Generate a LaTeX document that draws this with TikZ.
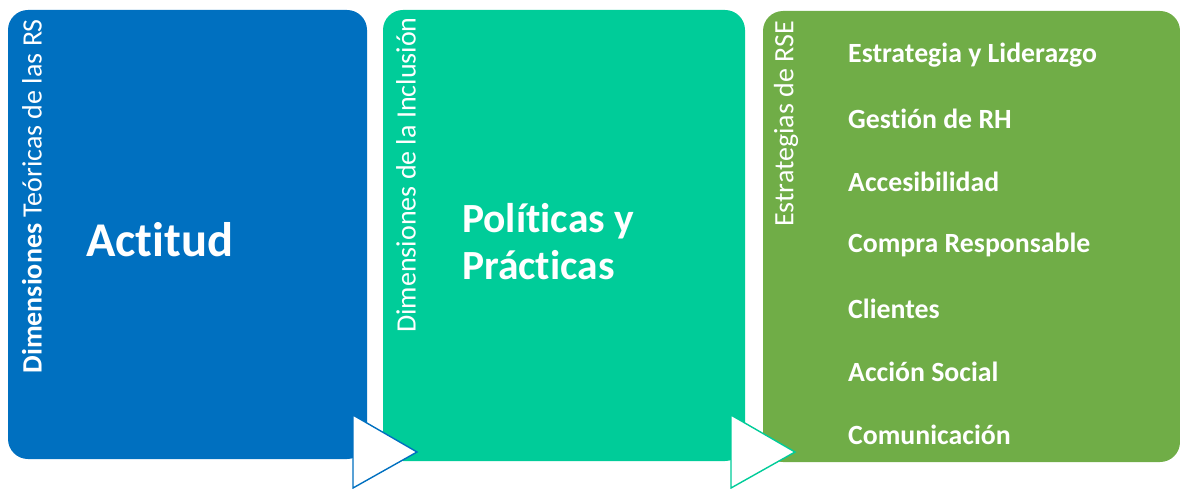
\documentclass[tikz,border=0pt]{standalone}
\usepackage{fontspec}
\setmainfont{Carlito}[Ligatures=NoCommon]
\definecolor{cblue}{HTML}{0070C0}
\definecolor{cteal}{HTML}{00CC99}
\definecolor{cgreen}{HTML}{70AD47}
\begin{document}
\begin{tikzpicture}[x=1pt,y=-1pt,
  panel/.style={rounded corners=20pt},
  vlabel/.style={rotate=90,anchor=east,text=white,font=\fontsize{28}{32}\selectfont,inner sep=0pt},
  item/.style={anchor=west,text=white,font=\fontsize{27.8}{32}\selectfont\bfseries,inner sep=0pt},
  big/.style={text=white,font=\fontsize{48.5}{56}\selectfont\bfseries,inner sep=0pt},
  tri/.style={fill=white,line width=1.4pt,line join=miter}]
\useasboundingbox (0,0) rectangle (1180,489);
\fill[cblue,panel] (8,10) rectangle (367,459);
\fill[cteal,panel] (383,10) rectangle (745,461);
\fill[cgreen,panel] (763,11) rectangle (1180,462);
\node[vlabel] (l1) at (32,19) {\textbf{Dimensiones} Teóricas de las RS};
\node[vlabel] (l2) at (406,17) {Dimensiones de la Inclusión};
\node[vlabel] (l3) at (786,21) {Estrategias de RSE};
\node[big,anchor=west] (a) at (86,240) {Actitud};
\node[big,anchor=west,align=left,font=\fontsize{41.5}{47}\selectfont\bfseries] (p) at (462,242) {Políticas y\\Prácticas};
\node[item] (i1) at (848,55) {Estrategia y Liderazgo};
\node[item] (i2) at (848,119) {Gestión de RH};
\node[item] (i3) at (848,182) {Accesibilidad};
\node[item] (i4) at (848,245) {Compra Responsable};
\node[item] (i5) at (848,309) {Clientes};
\node[item] (i6) at (848,372) {Acción Social};
\node[item] (i7) at (848,435) {Comunicación};
\draw[tri,draw=cblue] (353,415) -- (417,452) -- (353,488) -- cycle;
\draw[tri,draw=cteal] (731,415) -- (795,452) -- (731,488) -- cycle;
\end{tikzpicture}
\end{document}
